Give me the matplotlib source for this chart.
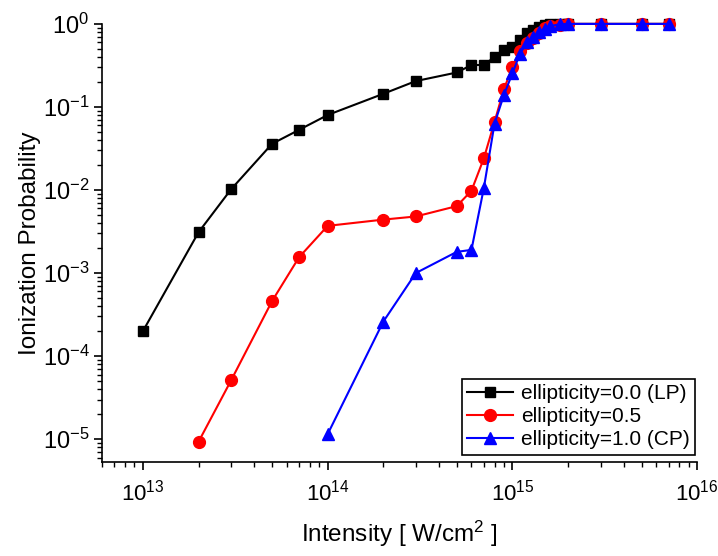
#!/usr/bin/env python
import matplotlib
matplotlib.use("Agg")
import matplotlib.pyplot as plt
from matplotlib.ticker import LogLocator

plt.rcParams['font.family'] = ['Liberation Sans', 'DejaVu Sans']
plt.rcParams['mathtext.fontset'] = 'custom'
plt.rcParams['mathtext.rm'] = 'Liberation Sans'
plt.rcParams['mathtext.default'] = 'regular'
plt.rcParams['axes.unicode_minus'] = False

# intensity grid, W/cm^2
intensity = [1e13, 2e13, 3e13, 5e13, 7e13, 1e14, 2e14, 3e14, 5e14, 6e14, 7e14, 8e14, 9e14,
             1e15, 1.1e15, 1.2e15, 1.3e15, 1.4e15, 1.5e15, 1.6e15, 1.8e15, 2e15, 3e15, 5e15, 7e15]

prob_lp = [2.0e-4, 3.1e-3, 1.02e-2, 3.6e-2, 5.3e-2, 8.0e-2, 0.144, 0.205, 0.26, 0.32, 0.32, 0.40, 0.49,
           0.53, 0.64, 0.77, 0.85, 0.93, 0.97, 0.99, 1.0, 1.0, 1.0, 1.0, 1.0]
# ellipticity 0.5 starts at 2e13
prob_e05 = [9.3e-6, 5.1e-5, 4.6e-4, 1.55e-3, 3.7e-3, 4.4e-3, 4.8e-3, 6.4e-3, 9.8e-3, 2.4e-2, 6.6e-2, 0.165,
            0.30, 0.47, 0.59, 0.68, 0.77, 0.89, 0.94, 0.98, 1.0, 1.0, 1.0, 1.0]
# circular polarisation starts at 1e14
prob_cp = [1.15e-5, 2.6e-4, 1.0e-3, 1.8e-3, 1.9e-3, 1.05e-2, 6.3e-2, 0.14,
           0.255, 0.44, 0.60, 0.70, 0.80, 0.88, 0.94, 0.99, 1.0, 1.0, 1.0, 1.0]

labels = ['ellipticity=0.0 (LP)', 'ellipticity=0.5', 'ellipticity=1.0 (CP)']

fig = plt.figure(figsize=(7.18, 5.56), dpi=100)
ax = fig.add_axes([0.142, 0.169, 0.829, 0.788])

ax.plot(intensity, prob_lp, color='black', marker='s', ms=7.5, lw=1.5, label=labels[0], clip_on=False)
ax.plot(intensity[len(intensity) - len(prob_e05):], prob_e05, color='red', marker='o', ms=8.5, lw=1.5,
        label=labels[1], clip_on=False)
ax.plot(intensity[len(intensity) - len(prob_cp):], prob_cp, color='blue', marker='^', ms=8.5, lw=1.5,
        label=labels[2], clip_on=False)

ax.set_xscale('log')
ax.set_yscale('log')
ax.set_xlim(6.0e12, 1e16)
ax.set_ylim(5.3e-6, 1.0)

for s in ['top', 'right']:
    ax.spines[s].set_visible(False)
ax.spines['left'].set_linewidth(1.2)
ax.spines['bottom'].set_linewidth(1.2)

ax.xaxis.set_major_locator(LogLocator(base=10, numticks=10))
ax.yaxis.set_major_locator(LogLocator(base=10, numticks=10))
ax.xaxis.set_minor_locator(LogLocator(base=10, subs=range(2, 10), numticks=20))
ax.yaxis.set_minor_locator(LogLocator(base=10, subs=range(2, 10), numticks=20))
ax.tick_params(which='major', direction='out', length=6, width=1.2, labelsize=17)
ax.tick_params(which='minor', direction='out', length=3.5, width=1.0)
ax.tick_params(axis='x', pad=7, labelsize=16)
ax.tick_params(axis='y', pad=3)

ax.set_xlabel('Intensity [ W/cm$^2$ ]', fontsize=17.5, labelpad=9)
ax.set_ylabel('Ionization Probability', fontsize=17.5, labelpad=1)

leg = ax.legend(loc='lower right', bbox_to_anchor=(1.0, 0.012), fontsize=15, frameon=True,
                fancybox=False, framealpha=1, edgecolor='black', borderpad=0.25,
                handlelength=2.2, handletextpad=0.4, labelspacing=0.2, borderaxespad=0.1)
leg.get_frame().set_linewidth(1.2)

fig.savefig('out.png', dpi=100)
